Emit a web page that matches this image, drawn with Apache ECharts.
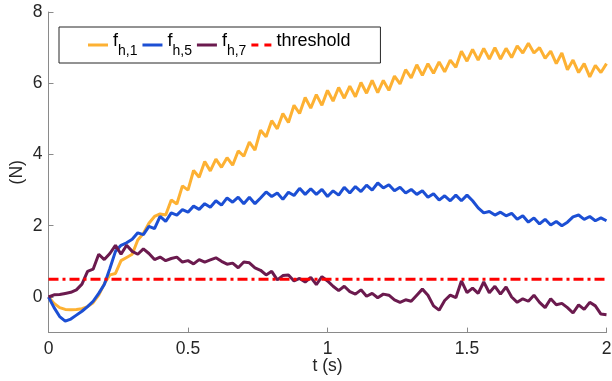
<!DOCTYPE html>
<html>
<head>
<meta charset="utf-8">
<script src="https://cdn.jsdelivr.net/npm/echarts@6/dist/echarts.min.js"></script>
<style>html,body{margin:0;padding:0;background:#fff}#c{width:612px;height:381px}</style>
</head>
<body>
<div id="c"></div>
<script>
const times = [
  0, 0.02, 0.04, 0.06, 0.08, 0.10, 0.12, 0.14, 0.16, 0.18,
  0.20, 0.22, 0.24, 0.26, 0.28, 0.30, 0.32, 0.34, 0.36, 0.38,
  0.40, 0.42, 0.44, 0.46, 0.48, 0.50, 0.52, 0.54, 0.56, 0.58,
  0.60, 0.62, 0.64, 0.66, 0.68, 0.70, 0.72, 0.74, 0.76, 0.78,
  0.80, 0.82, 0.84, 0.86, 0.88, 0.90, 0.92, 0.94, 0.96, 0.98,
  1.00, 1.02, 1.04, 1.06, 1.08, 1.10, 1.12, 1.14, 1.16, 1.18,
  1.20, 1.22, 1.24, 1.26, 1.28, 1.30, 1.32, 1.34, 1.36, 1.38,
  1.40, 1.42, 1.44, 1.46, 1.48, 1.50, 1.52, 1.54, 1.56, 1.58,
  1.60, 1.62, 1.64, 1.66, 1.68, 1.70, 1.72, 1.74, 1.76, 1.78,
  1.80, 1.82, 1.84, 1.86, 1.88, 1.90, 1.92, 1.94, 1.96, 1.98,
  2.00
];
const fh1 = [
  0, -0.18, -0.30, -0.35, -0.36, -0.35, -0.33, -0.27, -0.16, 0.05,
  0.37, 0.62, 0.66, 1.02, 1.11, 1.20, 1.60, 1.78, 2.07, 2.26,
  2.33, 2.30, 2.72, 2.61, 3.12, 3.00, 3.55, 3.36, 3.80, 3.54,
  3.87, 3.64, 3.91, 3.70, 4.10, 3.95, 4.35, 4.12, 4.68, 4.50,
  4.95, 4.72, 5.15, 4.90, 5.38, 5.15, 5.60, 5.30, 5.68, 5.38,
  5.80, 5.50, 5.88, 5.58, 5.92, 5.62, 6.02, 5.72, 6.08, 5.74,
  6.08, 5.80, 6.20, 5.98, 6.38, 6.15, 6.52, 6.22, 6.55, 6.28,
  6.60, 6.32, 6.65, 6.45, 6.90, 6.62, 6.95, 6.65, 6.98, 6.68,
  7.00, 6.68, 6.98, 6.72, 7.05, 6.85, 7.12, 6.85, 7.00, 6.70,
  6.90, 6.55, 6.85, 6.38, 6.65, 6.30, 6.55, 6.18, 6.50, 6.30,
  6.55
];
const fh5 = [
  0, -0.30, -0.55, -0.68, -0.62, -0.51, -0.40, -0.27, -0.12, 0.10,
  0.35, 0.80, 1.28, 1.45, 1.52, 1.62, 1.80, 1.75, 1.98, 1.92,
  2.26, 2.12, 2.36, 2.30, 2.45, 2.38, 2.55, 2.46, 2.62, 2.52,
  2.70, 2.58, 2.78, 2.66, 2.80, 2.62, 2.80, 2.62, 2.78, 2.95,
  2.82, 2.92, 2.74, 2.94, 2.85, 3.05, 2.88, 3.04, 2.88, 3.02,
  2.82, 2.98, 2.86, 3.08, 2.92, 3.10, 2.96, 3.14, 3.00, 3.20,
  3.06, 3.15, 2.98, 3.08, 2.92, 3.02, 2.88, 2.98, 2.80, 2.90,
  2.72, 2.84, 2.70, 2.86, 2.70, 2.86, 2.70, 2.50, 2.36, 2.40,
  2.30, 2.38, 2.28, 2.35, 2.18, 2.28, 2.10, 2.22, 2.05, 2.18,
  2.02, 2.12, 2.00, 2.10, 2.25, 2.30, 2.18, 2.26, 2.14, 2.22,
  2.14
];
const fh7 = [
  0, 0.06, 0.07, 0.10, 0.13, 0.20, 0.36, 0.72, 0.78, 1.20,
  1.05, 1.22, 1.45, 1.20, 1.45, 1.28, 1.20, 1.35, 1.22, 1.05,
  1.12, 1.02, 1.08, 1.12, 0.98, 1.02, 0.93, 1.05, 0.98, 1.04,
  1.10, 1.00, 0.92, 0.95, 0.82, 0.98, 0.96, 0.82, 0.75, 0.62,
  0.72, 0.48, 0.60, 0.62, 0.45, 0.52, 0.42, 0.55, 0.35, 0.57,
  0.45, 0.30, 0.18, 0.30, 0.15, 0.08, 0.20, 0.02, 0.10, -0.02,
  0.08, 0.05, -0.08, -0.15, -0.08, -0.12, 0.05, 0.22, 0.05, -0.25,
  -0.37, -0.10, 0.05, -0.02, 0.45, 0.12, 0.25, 0.10, 0.42, 0.12,
  0.30, 0.08, 0.28, 0.00, -0.15, -0.05, -0.12, 0.05, -0.15, -0.30,
  -0.05, -0.22, -0.18, -0.30, -0.45, -0.22, -0.35, -0.15, -0.25, -0.48,
  -0.50
];
const thresholdT = [0, 2];
const thresholdV = [0.5, 0.5];
const xTicks = [0, 0.5, 1, 1.5, 2];
const yTicks = [0, 2, 4, 6, 8];
const seriesNames = ['fh1', 'fh5', 'fh7', 'threshold'];
const legendMain = ['f', 'f', 'f', 'threshold'];
const legendSub = ['h,1', 'h,5', 'h,7', ''];

const FONT = '"Liberation Sans", Arial, sans-serif';
const pairs = (xs, ys) => xs.map((x, i) => [x, ys[i]]);

const chart = echarts.init(document.getElementById('c'), null, {renderer: 'canvas'});
const axisGray = '#8a8a8a';
const textGray = '#262626';
const solidIcon = 'path://M0,0H20V3H0Z';
const dashIcon = 'path://M0,0H7V3H0Z M13,0H20V3H13Z';

chart.setOption({
  animation: false,
  backgroundColor: '#fff',
  textStyle: {fontFamily: FONT},
  grid: {left: 48.5, right: 5.5, top: 12, bottom: 48.4, outerBoundsMode: 'none', containLabel: false},
  legend: {
    left: 59, top: 27,
    orient: 'horizontal',
    backgroundColor: '#fff',
    borderColor: '#262626', borderWidth: 1, borderRadius: 0,
    padding: [5, 30, 5, 29],
    itemWidth: 20, itemHeight: 3, itemGap: 5,
    data: seriesNames.map((n, i) => ({name: n, icon: i === 3 ? dashIcon : solidIcon})),
    formatter: function (name) {
      const i = seriesNames.indexOf(name);
      return legendSub[i] ? '{m|' + legendMain[i] + '}{s|' + legendSub[i] + '}' : '{m|' + legendMain[i] + '}';
    },
    textStyle: {
      fontFamily: FONT, fontSize: 18, color: '#000',
      rich: {
        m: {fontFamily: FONT, fontSize: 18, color: '#000', lineHeight: 26, verticalAlign: 'top', padding: [0, 0, 6, 0]},
        s: {fontFamily: FONT, fontSize: 14, color: '#000', lineHeight: 26, verticalAlign: 'bottom', padding: [10, 0, 0, 0]}
      }
    }
  },
  xAxis: {
    type: 'value', min: 0, max: 2, interval: 0.5,
    name: 't (s)', nameLocation: 'middle', nameGap: 25, nameMoveOverlap: false,
    nameTextStyle: {fontFamily: FONT, fontSize: 17.5, color: textGray},
    axisLine: {show: true, onZero: false, lineStyle: {color: axisGray, width: 1}},
    axisTick: {show: true, inside: true, length: 5, lineStyle: {color: axisGray}, customValues: xTicks},
    axisLabel: {fontFamily: FONT, fontSize: 17.5, color: textGray, margin: 8, customValues: xTicks,
      formatter: v => String(v)},
    splitLine: {show: false}
  },
  yAxis: {
    type: 'value', min: -1, max: 8,
    name: '(N)', nameLocation: 'middle', nameGap: 22, nameRotate: 90, nameMoveOverlap: false,
    nameTextStyle: {fontFamily: FONT, fontSize: 17.5, color: textGray},
    axisLine: {show: true, onZero: false, lineStyle: {color: axisGray, width: 1}},
    axisTick: {show: true, inside: true, length: 5, lineStyle: {color: axisGray}, customValues: yTicks},
    axisLabel: {fontFamily: FONT, fontSize: 17.5, color: textGray, margin: 6, customValues: yTicks,
      formatter: v => String(v)},
    splitLine: {show: false}
  },
  series: [
    {name: 'fh1', type: 'line', data: pairs(times, fh1), symbol: 'none', showSymbol: false,
      lineStyle: {color: '#FDB133', width: 3}, itemStyle: {color: '#FDB133'}, z: 2},
    {name: 'fh5', type: 'line', data: pairs(times, fh5), symbol: 'none', showSymbol: false,
      lineStyle: {color: '#1C4FD4', width: 3}, itemStyle: {color: '#1C4FD4'}, z: 3},
    {name: 'fh7', type: 'line', data: pairs(times, fh7), symbol: 'none', showSymbol: false,
      lineStyle: {color: '#6B1A4E', width: 3}, itemStyle: {color: '#6B1A4E'}, z: 4},
    {name: 'threshold', type: 'line', data: pairs(thresholdT, thresholdV), symbol: 'none', showSymbol: false,
      lineStyle: {color: '#FF0000', width: 3, type: [10, 4, 3, 4]}, itemStyle: {color: '#FF0000'}, z: 5}
  ]
});
</script>
</body>
</html>
